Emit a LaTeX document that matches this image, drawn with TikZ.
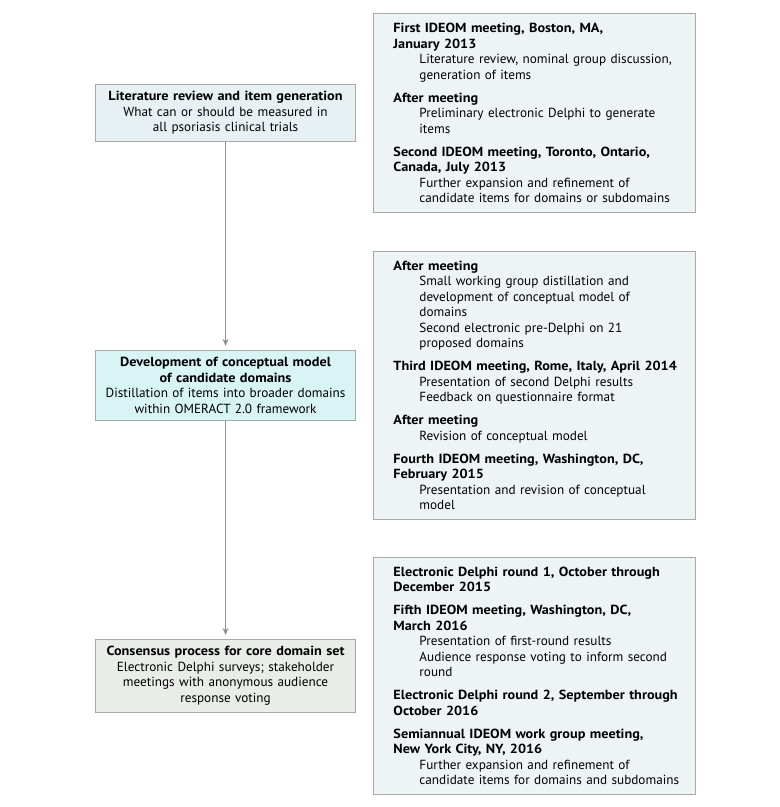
\documentclass[tikz,border=0pt]{standalone}
\usepackage{fontspec}
\setmainfont{PT Sans}[BoldFeatures={FakeStretch=1.08}]
\usetikzlibrary{arrows.meta,positioning}
\definecolor{rimgray}{HTML}{A6A9AA}
\definecolor{linkgray}{HTML}{8E8E8E}
\definecolor{notefill}{HTML}{EEF4F5}
\definecolor{litfill}{HTML}{E7F0F2}
\definecolor{devfill}{HTML}{D8F4F4}
\definecolor{consfill}{HTML}{E9ECE7}
\newcommand{\evhead}[1]{\mbox{\bfseries #1}}
\newcommand{\evsub}[1]{\hspace*{26pt}\mbox{#1}}
\tikzset{
 stagebox/.style={draw=rimgray,line width=0.9pt,align=center,text width=252pt,
             minimum width=260pt,inner xsep=4pt,inner ysep=7pt,font=\fontsize{13.2}{15.5}\selectfont},
 notebox/.style={draw=rimgray,fill=notefill,line width=0.9pt,align=left,text width=282pt,
             inner xsep=20pt,font=\fontsize{13.2}{15.5}\selectfont},
 arrow/.style={-{Stealth[length=7pt,width=6pt]},draw=linkgray,line width=0.9pt,shorten >=4pt}
}
\begin{document}
\begin{tikzpicture}[x=1pt,y=-1pt,node distance=38pt and 17pt]
\useasboundingbox (0,0) rectangle (780,807);
\node[notebox,minimum height=199pt,anchor=north west] (s1) at (373,13) {%
\evhead{First IDEOM meeting, Boston, MA,}\\
\evhead{January 2013}\\
\evsub{Literature review, nominal group discussion,}\\
\evsub{generation of items}\\[7.5pt]
\evhead{After meeting}\\
\evsub{Preliminary electronic Delphi to generate}\\
\evsub{items}\\[7.5pt]
\evhead{Second IDEOM meeting, Toronto, Ontario,}\\
\evhead{Canada, July 2013}\\
\evsub{Further expansion and refinement of}\\
\evsub{candidate items for domains or subdomains}};
\node[notebox,minimum height=268pt,below=of s1] (s2) {%
\evhead{After meeting}\\
\evsub{Small working group distillation and}\\
\evsub{development of conceptual model of}\\
\evsub{domains}\\
\evsub{Second electronic pre-Delphi on 21}\\
\evsub{proposed domains}\\[7.5pt]
\evhead{Third IDEOM meeting, Rome, Italy, April 2014}\\
\evsub{Presentation of second Delphi results}\\
\evsub{Feedback on questionnaire format}\\[7.5pt]
\evhead{After meeting}\\
\evsub{Revision of conceptual model}\\[7.5pt]
\evhead{Fourth IDEOM meeting, Washington, DC,}\\
\evhead{February 2015}\\
\evsub{Presentation and revision of conceptual}\\
\evsub{model}};
\node[notebox,minimum height=237pt,below=37pt of s2] (s3) {%
\evhead{Electronic Delphi round 1, October through}\\
\evhead{December 2015}\\[7.5pt]
\evhead{Fifth IDEOM meeting, Washington, DC,}\\
\evhead{March 2016}\\
\evsub{Presentation of first-round results}\\
\evsub{Audience response voting to inform second}\\
\evsub{round}\\[7.5pt]
\evhead{Electronic Delphi round 2, September through}\\
\evhead{October 2016}\\[7.5pt]
\evhead{Semiannual IDEOM work group meeting,}\\
\evhead{New York City, NY, 2016}\\
\evsub{Further expansion and refinement of}\\
\evsub{candidate items for domains and subdomains}};
\node[stagebox,fill=litfill,left=of s1] (lit) {\textbf{Literature review and item generation}\\
What can or should be measured in\\all psoriasis clinical trials};
\node[stagebox,fill=devfill,left=of s2] (dev) {\textbf{Development of conceptual model}\\
\textbf{of candidate domains}\\Distillation of items into broader domains\\within OMERACT 2.0 framework};
\node[stagebox,fill=consfill,left=of s3] (cons) {\textbf{Consensus process for core domain set}\\
Electronic Delphi surveys; stakeholder\\meetings with anonymous audience\\response voting};
\draw[arrow] (lit) -- (dev);
\draw[arrow] (dev) -- (cons);
\end{tikzpicture}
\end{document}
